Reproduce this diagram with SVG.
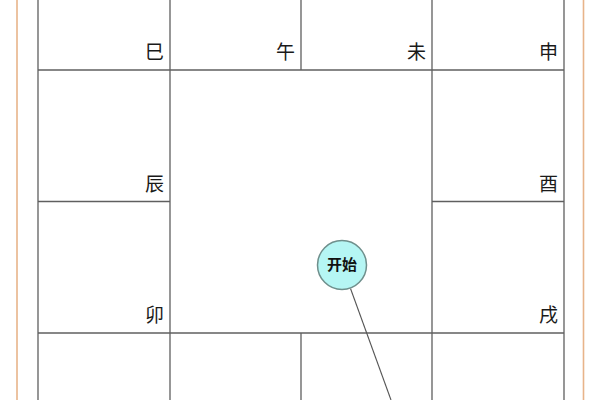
<svg xmlns="http://www.w3.org/2000/svg" width="600" height="400" viewBox="0 0 600 400">
<style>
.border{stroke:#e8b48a;stroke-width:1.6;fill:none}
.grid{stroke:#5f5f5f;stroke-width:1.3;fill:none}
.lbl{font-family:"Noto Sans CJK SC","Liberation Sans",sans-serif;font-size:19px;fill:#1a1a1a;text-anchor:end}
.node{fill:#b5f6f4;stroke:#6f8f8c;stroke-width:1.5}
.ntxt{font-family:"Noto Sans CJK SC","Liberation Sans",sans-serif;font-size:15px;font-weight:bold;fill:#111;text-anchor:middle}
.conn{stroke:#555;stroke-width:1.1;fill:none}
</style>
<rect width="600" height="400" fill="#ffffff"/>
<g id="frame">
<line class="border" x1="17" y1="0" x2="17" y2="400"/>
<line class="border" x1="583.5" y1="0" x2="583.5" y2="400"/>
</g>
<g id="grid">
<line class="grid" x1="38" y1="0" x2="38" y2="400"/>
<line class="grid" x1="170" y1="0" x2="170" y2="400"/>
<line class="grid" x1="301" y1="0" x2="301" y2="70"/>
<line class="grid" x1="301" y1="333" x2="301" y2="400"/>
<line class="grid" x1="432" y1="0" x2="432" y2="400"/>
<line class="grid" x1="564" y1="0" x2="564" y2="400"/>
<line class="grid" x1="38" y1="70" x2="564" y2="70"/>
<line class="grid" x1="38" y1="201.5" x2="170" y2="201.5"/>
<line class="grid" x1="432" y1="201.5" x2="564" y2="201.5"/>
<line class="grid" x1="38" y1="333" x2="564" y2="333"/>
</g>
<g id="labels">
<text class="lbl" x="164" y="59">巳</text>
<text class="lbl" x="295" y="59">午</text>
<text class="lbl" x="426" y="59">未</text>
<text class="lbl" x="558" y="59">申</text>
<text class="lbl" x="164" y="191">辰</text>
<text class="lbl" x="558" y="191">酉</text>
<text class="lbl" x="164" y="322">卯</text>
<text class="lbl" x="558" y="322">戌</text>
</g>
<g id="connectors">
<line class="conn" x1="350.5" y1="288.5" x2="391" y2="400"/>
</g>
<g id="node-start">
<circle class="node" cx="342" cy="265" r="24.5"/>
<text class="ntxt" x="342" y="270">开始</text>
</g>
</svg>
